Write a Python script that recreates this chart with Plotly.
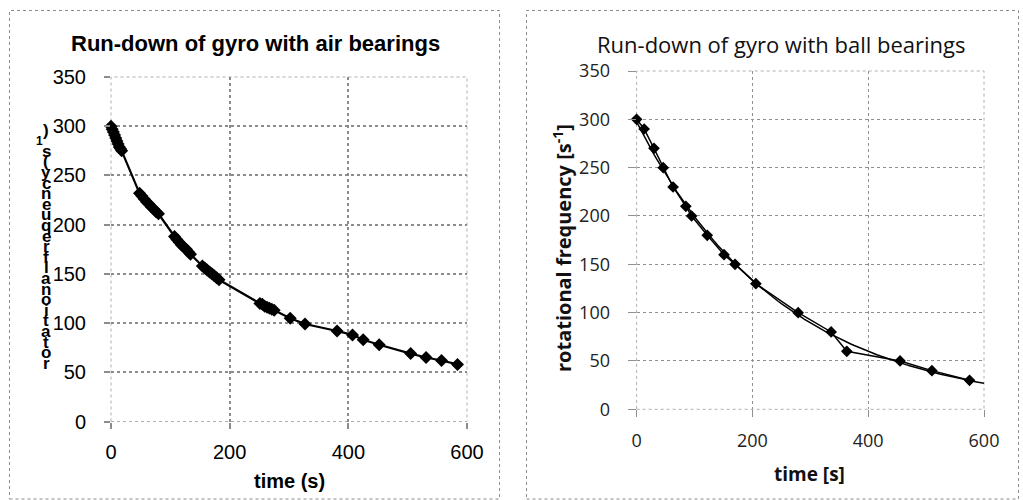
import numpy as np
import plotly.graph_objects as go

# Air-bearing gyro: time [s] and rotational frequency [1/s]
air_time = [0, 2, 4, 6, 8, 10, 12, 14, 16, 18,
            48, 52, 56, 60, 64, 68, 72, 76, 80,
            107, 111, 115, 119, 123, 127, 131, 134,
            154, 158, 162, 166, 170, 174, 178, 182,
            251, 255, 259, 263, 267, 271, 275,
            302, 327, 381, 407, 425, 452, 505, 531, 557, 584]
air_freq = [300, 297, 294, 291, 288, 285, 282, 279, 277, 275,
            232, 229, 226, 223, 221, 218, 216, 213, 211,
            188, 185, 182, 179, 177, 175, 172, 170,
            158, 156, 154, 152, 150, 148, 146, 144,
            120, 119, 117, 116, 115, 114, 113,
            105, 99, 92, 88, 83, 78, 69, 65, 62, 58]

# Ball-bearing gyro
ball_time = [0, 13, 30, 46, 63, 85, 95, 122, 151, 170, 206, 279, 336, 363, 455, 510, 575]
ball_freq = [300, 290, 270, 250, 230, 210, 200, 180, 160, 150, 130, 100, 80, 60, 50, 40, 30]

x_ticks = [0, 200, 400, 600]
y_ticks = [0, 50, 100, 150, 200, 250, 300, 350]

left_title = "Run-down of gyro with air bearings"
right_title = "Run-down of gyro with ball bearings"
left_ylabel = "rotational frequency (s-1)"
left_xlabel = "time (s)"
right_ylabel = "rotational frequency [s<sup>-1</sup>]"
right_xlabel = "time [s]"

W, H = 1023, 500


def px(x):
    return x / W


def py(y):
    return 1 - y / H


ARIAL = "Liberation Sans"
SANS = "Open Sans"

fig = go.Figure()

fig.add_trace(go.Scatter(
    x=air_time, y=air_freq, mode="lines+markers",
    line=dict(color="black", width=2.2),
    marker=dict(symbol="diamond", size=10, color="black"),
    cliponaxis=False, xaxis="x", yaxis="y", showlegend=False))

# exponential trend line fitted to the ball-bearing data
slope, icept = np.polyfit(ball_time, np.log(ball_freq), 1)
trend_t = np.linspace(0, 600, 121)
trend_f = np.exp(icept + slope * trend_t)
fig.add_trace(go.Scatter(
    x=trend_t, y=trend_f, mode="lines",
    line=dict(color="black", width=1.5),
    cliponaxis=False, xaxis="x2", yaxis="y2", showlegend=False))
fig.add_trace(go.Scatter(
    x=ball_time, y=ball_freq, mode="lines+markers",
    line=dict(color="black", width=1.5),
    marker=dict(symbol="diamond", size=9, color="black"),
    cliponaxis=False, xaxis="x2", yaxis="y2", showlegend=False))

# plot area boxes (pixel coordinates)
L = dict(x0=111, x1=467, y0=77, y1=421.5)
R = dict(x0=636.6, x1=984, y0=71, y1=409.3)

axis_common = dict(showline=False, zeroline=False, ticks="outside", automargin=False,
                   griddash="dot", showgrid=True)

fig.update_layout(
    width=W, height=H, margin=dict(l=0, r=0, t=0, b=0, autoexpand=False),
    paper_bgcolor="white", plot_bgcolor="white",
    xaxis=dict(domain=[px(L["x0"]), px(L["x1"])], range=[0, 600], tickvals=x_ticks,
               anchor="y", gridcolor="#8c8c8c", gridwidth=1.6, tickcolor="#8c8c8c",
               ticklen=6, tickwidth=1.5, ticklabelstandoff=6,
               tickfont=dict(family=ARIAL, size=20, color="black"), **axis_common),
    yaxis=dict(domain=[py(L["y1"]), py(L["y0"])], range=[0, 350], tickvals=y_ticks,
               anchor="x", gridcolor="#8c8c8c", gridwidth=1.6, tickcolor="#8c8c8c",
               ticklen=6, tickwidth=1.5, ticklabelstandoff=14,
               tickfont=dict(family=ARIAL, size=20, color="black"), **axis_common),
    xaxis2=dict(domain=[px(R["x0"]), px(R["x1"])], range=[0, 600], tickvals=x_ticks,
                anchor="y2", gridcolor="#909090", gridwidth=1, tickcolor="#909090",
                ticklen=7, ticklabelstandoff=8,
                tickfont=dict(family=SANS, size=18, color="#222"), **axis_common),
    yaxis2=dict(domain=[py(R["y1"]), py(R["y0"])], range=[0, 350], tickvals=y_ticks,
                anchor="x2", gridcolor="#909090", gridwidth=1, tickcolor="#909090",
                ticklen=8, ticklabelstandoff=14,
                tickfont=dict(family=SANS, size=18, color="#222"), **axis_common),
)

shapes = []
# chart frames
for x0, x1 in [(9.5, 499.5), (526.5, 1018.5)]:
    shapes.append(dict(type="rect", xref="paper", yref="paper",
                       x0=px(x0), x1=px(x1), y0=py(499), y1=py(10.5),
                       line=dict(color="#8c8c8c", width=1, dash="dot")))
# plot area borders
for box in (L, R):
    shapes.append(dict(type="rect", xref="paper", yref="paper",
                       x0=px(box["x0"]), x1=px(box["x1"]), y0=py(box["y1"]), y1=py(box["y0"]),
                       line=dict(color="#b0b0b0", width=1, dash="dot"), layer="below"))
fig.update_layout(shapes=shapes)

ann = []
ann.append(dict(text=f"<b>{left_title}</b>", x=px(255), y=py(44), xref="paper", yref="paper",
                showarrow=False, xanchor="center", yanchor="middle",
                font=dict(family=ARIAL, size=22, color="black")))
ann.append(dict(text=right_title, x=px(781), y=py(44), xref="paper", yref="paper",
                showarrow=False, xanchor="center", yanchor="middle",
                font=dict(family=SANS, size=22, color="#111")))
ann.append(dict(text=f"<b>{left_xlabel}</b>", x=px(289), y=py(481), xref="paper", yref="paper",
                showarrow=False, xanchor="center", yanchor="middle",
                font=dict(family=ARIAL, size=20, color="black")))
ann.append(dict(text=f"<b>{right_xlabel}</b>", x=px(809), y=py(474), xref="paper", yref="paper",
                showarrow=False, xanchor="center", yanchor="middle",
                font=dict(family=SANS, size=19, color="#111")))
ann.append(dict(text=f"<b>{right_ylabel}</b>", x=px(562), y=py(248), xref="paper", yref="paper",
                showarrow=False, xanchor="center", yanchor="middle", textangle=-90,
                font=dict(family=SANS, size=20, color="#111")))

# left axis title: glyphs stacked upright, last character on top
glyphs = [c for c in reversed(left_ylabel) if c not in " -"]
top, step = 130, 10.6
for i, ch in enumerate(glyphs):
    small = ch == "1"
    ann.append(dict(text=f"<b>{ch}</b>", x=px(39 if small else 46), y=py(top + i * step),
                    xref="paper", yref="paper", showarrow=False,
                    xanchor="center", yanchor="middle",
                    font=dict(family=ARIAL, size=12 if small else 17, color="black")))
fig.update_layout(annotations=ann)

fig.write_html("out.html")
